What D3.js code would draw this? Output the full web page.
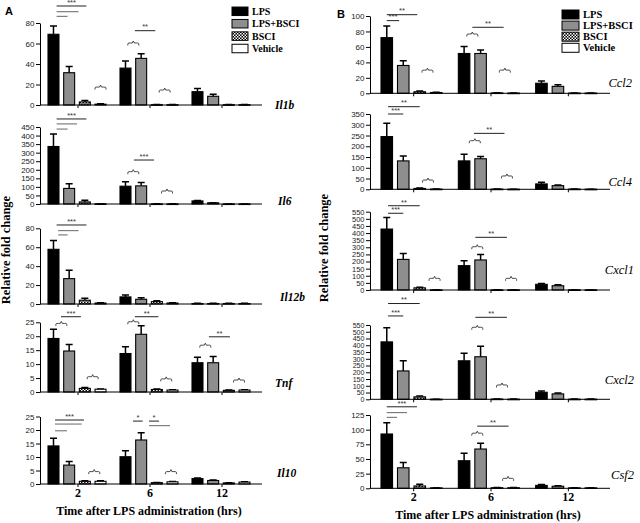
<!DOCTYPE html>
<html><head><meta charset="utf-8">
<script src="https://cdn.jsdelivr.net/npm/d3@7"></script>
<style>body{margin:0;background:#fff} svg{display:block}</style>
</head><body>
<svg id="c" width="640" height="523"></svg>
<script>
// ---------- DATA ----------
const groups = ["2","6","12"];
const series = ["LPS","LPS+BSCI","BSCI","Vehicle"];
const genesA = ["Il1b","Il6","Il12b","Tnf","Il10"];
const genesB = ["Ccl2","Ccl4","Cxcl1","Cxcl2","Csf2"];
const yMaxA = [80,450,80,25,25];
const yStepA = [20,50,20,5,5];
const yMaxB = [100,350,550,550,125];
const yStepB = [20,50,50,50,25];

// 12 values per gene: [2h: LPS, LPS+BSCI, BSCI, Vehicle | 6h ... | 12h ...]
const il1bMean  = [69,31.5,3,0.8, 36,45.5,0.3,0.3, 13,8.5,0.3,0.3];
const il1bSem   = [8,6,1.5,0.3, 7,4.5,0.2,0.2, 3,2,0.2,0.2];
const il6Mean   = [336,91,12,1, 104,106,0.5,0.5, 18,7,0.5,0.5];
const il6Sem    = [73,27,10,0.5, 26,19,0.3,0.3, 2,1,0.2,0.2];
const il12bMean = [57.8,26.8,4,1, 7.5,5,2.5,1, 0.5,0.5,0.5,0.5];
const il12bSem  = [9.2,8.8,2,0.3, 2,1.5,1,0.2, 0.2,0.2,0.2,0.2];
const tnfMean   = [19.2,14.7,1.3,1.0, 13.8,20.7,0.9,0.7, 10.5,10.5,0.6,0.7];
const tnfSem    = [3.3,2.3,0.3,0.1, 2.4,3.1,0.2,0.1, 2,2.2,0.1,0.1];
const il10Mean  = [14.1,7.0,1.0,1.0, 10.1,16.3,0.5,0.8, 2.0,1.3,0.4,0.7];
const il10Sem   = [2.8,1.3,0.2,0.2, 2.2,2.7,0.1,0.1, 0.2,0.2,0.1,0.1];

const ccl2Mean  = [72,36,2,1, 51.5,51.5,0.5,0.3, 13,9,0.3,0.3];
const ccl2Sem   = [15,6,1,0.3, 9,4.5,0.2,0.1, 3,2,0.1,0.1];
const ccl4Mean  = [245,132,4,1, 132,142,1,0.5, 25,17,1,0.5];
const ccl4Sem   = [62,23,2,0.3, 31,10,0.5,0.2, 8,3,0.3,0.2];
const cxcl1Mean = [428,215,15,1, 171,211,1,1, 40,30,1,1];
const cxcl1Sem  = [82,42,5,0.5, 35,39,0.5,0.5, 5,7,0.5,0.5];
const cxcl2Mean = [425,210,18,0.5, 285,315,2,1, 52,40,1,1];
const cxcl2Sem  = [105,75,7,0.3, 55,77,1,0.5, 10,6,0.5,0.5];
const csf2Mean  = [92.6,35,4,0.8, 47,67,1,1, 5,3.5,0.8,0.8];
const csf2Sem   = [19,9,3,0.2, 12.7,10,0.2,0.2, 1.5,1,0.2,0.2];

const meanData = {Il1b:il1bMean, Il6:il6Mean, Il12b:il12bMean, Tnf:tnfMean, Il10:il10Mean,
  Ccl2:ccl2Mean, Ccl4:ccl4Mean, Cxcl1:cxcl1Mean, Cxcl2:cxcl2Mean, Csf2:csf2Mean};
const semData = {Il1b:il1bSem, Il6:il6Sem, Il12b:il12bSem, Tnf:tnfSem, Il10:il10Sem,
  Ccl2:ccl2Sem, Ccl4:ccl4Sem, Cxcl1:cxcl1Sem, Cxcl2:cxcl2Sem, Csf2:csf2Sem};

// significance lines: [gene, group, from bar index, to bar index, height (data units), label]
const sigLines = [
  ["Il1b","2",0.2,2.1,96.6,"***"],["Il1b","2",0.2,1.6,91,""],["Il1b","2",0.2,0.9,86.5,""],["Il1b","6",0.6,1.9,72.5,"**"],
  ["Il6","2",0.2,2.1,497,"***"],["Il6","2",0.2,1.5,468,""],["Il6","2",0.2,0.9,438,""],["Il6","6",0.54,1.82,257,"***"],
  ["Il12b","2",0.2,2.1,83.5,"***"],["Il12b","2",0.3,1.6,77.5,""],["Il12b","2",0.3,0.9,73,""],
  ["Tnf","2",0.48,1.75,27,"***"],["Tnf","6",0.6,2.1,27,"**"],["Tnf","12",0.73,2.07,19.8,"**"],
  ["Il10","2",0.1,1.95,23.7,"***"],["Il10","2",0.1,1.8,22.2,""],["Il10","2",0.1,0.86,19.7,""],
  ["Il10","6",0.48,1.1,23.3,"*"],["Il10","6",1.5,2.14,23.3,"*"],["Il10","6",1.5,2.84,21.6,""],
  ["Ccl2","2",0,1.85,101.7,"**"],["Ccl2","2",0,0.75,94,"***"],["Ccl2","6",0.5,2.4,85.4,"**"],
  ["Ccl4","2",0.08,2.0,384,"**"],["Ccl4","2",0.08,1.0,350,"***"],["Ccl4","6",0.6,2.45,260,"**"],
  ["Cxcl1","2",0.08,2.0,592,"**"],["Cxcl1","2",0.08,1.0,539,"***"],["Cxcl1","6",0.68,2.6,370,"**"],
  ["Cxcl2","2",0.08,2.0,709,"**"],["Cxcl2","2",0.08,1.0,617,"***"],["Cxcl2","6",0.68,2.6,607,"**"],
  ["Csf2","2",0,1.83,139,"***"],["Csf2","2",0,1.23,129,""],["Csf2","2",0,0.62,121,""],["Csf2","6",0.8,2.7,106,"**"]
];
// braces: [gene, group, bar index, height (data units)]
const braces = [
  ["Il1b","2",3,17.5],["Il1b","6",0.5,60.5],["Il1b","6",2.5,14.6],
  ["Il6","6",0.5,189],["Il6","6",2.65,76],
  ["Tnf","2",0.5,24.6],["Tnf","6",0.5,25.2],["Tnf","12",0.5,16.8],["Tnf","2",2.5,5.5],["Tnf","6",2.6,4.7],["Tnf","12",2.65,4.3],
  ["Il10","2",2.6,4.6],["Il10","6",2.9,4.6],
  ["Ccl2","6",0.5,76.7],["Ccl2","2",2.47,30],["Ccl2","6",2.47,30],
  ["Ccl4","6",0.65,226],["Ccl4","2",2.5,43],["Ccl4","6",2.6,62],
  ["Cxcl1","6",0.8,304],["Cxcl1","2",2.9,82],["Cxcl1","6",2.85,82],
  ["Cxcl2","6",0.8,533],["Cxcl2","6",2.3,106],
  ["Csf2","6",0.8,94],["Csf2","6",2.67,17]
];
const xTitle = "Time after LPS administration (hrs)";
const yTitle = "Relative fold change";

// ---------- LAYOUT ----------
const SERIF = "'Liberation Serif','Times New Roman',serif";
const SANS = "'Liberation Sans',Arial,sans-serif";
const svg = d3.select("#c");
const defs = svg.append("defs");
const pat = defs.append("pattern").attr("id","chk").attr("patternUnits","userSpaceOnUse")
  .attr("width",3).attr("height",3);
pat.append("rect").attr("width",3).attr("height",3).attr("fill","#000");
pat.append("rect").attr("x",0).attr("y",0).attr("width",1.5).attr("height",1.5).attr("fill","#fff");
pat.append("rect").attr("x",1.5).attr("y",1.5).attr("width",1.5).attr("height",1.5).attr("fill","#fff");
const fills = {"LPS":"#000","LPS+BSCI":"#8e8e8e","BSCI":"url(#chk)","Vehicle":"#fff"};

const panelA = {axisX:40, range:[42,258], xEnd:262, inner:[6,64],
  rows:[[105,23],[204,127],[304,228.3],[392,322.3],[484,416.5]],
  labelX:[275,278,280,275,277], labelY:[109,205,301,387,477], labelAnchor:"start", labelWeight:"bold",
  genes:genesA, yMax:yMaxA, yStep:yStepA};
const panelB = {axisX:370, range:[375,607], xEnd:610, inner:[6,67],
  rows:[[93.3,16],[189.3,114],[290,211.7],[399.3,325],[488.3,415]],
  labelX:[632,632,634,634,634], labelY:[87,186,274,384,479], labelAnchor:"end", labelWeight:"normal",
  genes:genesB, yMax:yMaxB, yStep:yStepB};

function bracePath(cx, cy){
  return `M${cx-5.5},${cy+2.5} C${cx-5.5},${cy} ${cx-5.5},${cy} ${cx-3},${cy} L${cx-1},${cy} L${cx},${cy-2} L${cx+1},${cy} L${cx+3},${cy} C${cx+5.5},${cy} ${cx+5.5},${cy} ${cx+5.5},${cy+2.5}`;
}

function drawPanel(P){
  const x0 = d3.scaleBand().domain(groups).range(P.range);
  const x1 = d3.scaleBand().domain(series).range(P.inner).paddingInner(0.3).paddingOuter(0);
  const idxX = (g,i) => x0(g) + x1(series[0]) + x1.bandwidth()/2 + i*x1.step();
  P.genes.forEach((gene,k)=>{
    const [zy,ty] = P.rows[k];
    const y = d3.scaleLinear().domain([0,P.yMax[k]]).range([zy,ty]);
    const g = svg.append("g");
    const m = meanData[gene], s = semData[gene];
    const data = [];
    groups.forEach((gr,gi)=>series.forEach((se,si)=>data.push({gr,se,mean:m[gi*4+si],sem:s[gi*4+si]})));
    // error bars
    g.selectAll(".eb").data(data).join("path")
      .attr("d",d=>{const cx=x0(d.gr)+x1(d.se)+x1.bandwidth()/2; const t=y(d.mean+d.sem);
        return `M${cx},${y(d.mean)} V${t} M${cx-3.5},${t} H${cx+3.5}`;})
      .attr("stroke","#000").attr("stroke-width",1.5).attr("fill","none");
    // bars
    g.selectAll(".bar").data(data).join("rect")
      .attr("x",d=>x0(d.gr)+x1(d.se)).attr("width",x1.bandwidth())
      .attr("y",d=>y(d.mean)).attr("height",d=>Math.max(0.6,zy-y(d.mean)))
      .attr("fill",d=>fills[d.se]).attr("stroke","#000").attr("stroke-width",1.1);
    // y axis
    const ticks = d3.range(0,P.yMax[k]+P.yStep[k]/2,P.yStep[k]);
    const spacing = (zy-ty)/(ticks.length-1);
    const ya = g.append("g").attr("transform",`translate(${P.axisX},0)`)
      .call(d3.axisLeft(y).tickValues(ticks).tickSize(4).tickSizeOuter(0).tickPadding(1.5));
    ya.selectAll("text").attr("font-family",SANS).attr("font-size",Math.min(8, spacing*1.05)).attr("fill","#222");
    ya.selectAll("line,path").attr("stroke","#000");
    // x axis
    g.append("line").attr("x1",P.axisX).attr("x2",P.xEnd).attr("y1",zy).attr("y2",zy).attr("stroke","#000");
    const last = k===P.genes.length-1;
    const xa = g.append("g").attr("transform",`translate(0,${zy})`)
      .call(d3.axisBottom(x0).tickSize(3).tickSizeOuter(0).tickPadding(1.5).tickFormat(last?(d=>d):(()=>"")));
    xa.select(".domain").remove();
    xa.selectAll("line").attr("stroke","#000");
    xa.selectAll("text").attr("font-family",SERIF).attr("font-weight","bold").attr("font-size",12).attr("fill","#000");
    // gene label
    g.append("text").attr("x",P.labelX[k]).attr("y",P.labelY[k]).attr("text-anchor",P.labelAnchor)
      .attr("font-family",SERIF).attr("font-style","italic").attr("font-weight",P.labelWeight)
      .attr("font-size",P.labelWeight==="bold"?11.5:12.5).text(gene);
    // significance lines
    sigLines.filter(d=>d[0]===gene).forEach(d=>{
      const ly=y(d[4]), xa1=idxX(d[1],d[2]), xa2=idxX(d[1],d[3]);
      g.append("line").attr("x1",xa1).attr("x2",xa2).attr("y1",ly).attr("y2",ly)
        .attr("stroke",d[5]?"#222":"#666").attr("stroke-width",1);
      if(d[5]) g.append("text").attr("x",(xa1+xa2)/2).attr("y",ly-1.2).attr("text-anchor","middle")
        .attr("font-family",SANS).attr("font-size",7.5).attr("fill","#333").text(d[5]);
    });
    braces.filter(d=>d[0]===gene).forEach(d=>{
      g.append("path").attr("d",bracePath(idxX(d[1],d[2]), y(d[3])))
        .attr("fill","none").attr("stroke","#333").attr("stroke-width",0.9);
    });
  });
}
drawPanel(panelA);
drawPanel(panelB);

// titles
svg.append("text").attr("x",5).attr("y",15).attr("font-family",SANS).attr("font-weight","bold").attr("font-size",11).text("A");
svg.append("text").attr("x",337).attr("y",18).attr("font-family",SANS).attr("font-weight","bold").attr("font-size",11).text("B");
[[10,250],[328,248]].forEach(([x,y])=>{
  svg.append("text").attr("transform",`translate(${x},${y}) rotate(-90)`).attr("text-anchor","middle")
    .attr("font-family",SERIF).attr("font-weight","bold").attr("font-size",12.5).text(yTitle);
});
[[149,515],[488,519]].forEach(([x,y])=>{
  svg.append("text").attr("x",x).attr("y",y).attr("text-anchor","middle")
    .attr("font-family",SERIF).attr("font-weight","bold").attr("font-size",12).text(xTitle);
});
// legends
function legend(bx,by0,step,bw,bh,fs){
  series.forEach((s,i)=>{
    const cy = by0 + i*step;
    svg.append("rect").attr("x",bx).attr("y",cy-bh/2).attr("width",bw).attr("height",bh)
      .attr("fill",fills[s]).attr("stroke","#000").attr("stroke-width",1);
    svg.append("text").attr("x",bx+bw+4).attr("y",cy+3.5).attr("font-family",SERIF).attr("font-weight","bold")
      .attr("font-size",fs).text(s);
  });
}
legend(232,11.3,12.4,16,8.5,10);
legend(562,14.5,11.1,17,9,10.5);
</script>
</body></html>
